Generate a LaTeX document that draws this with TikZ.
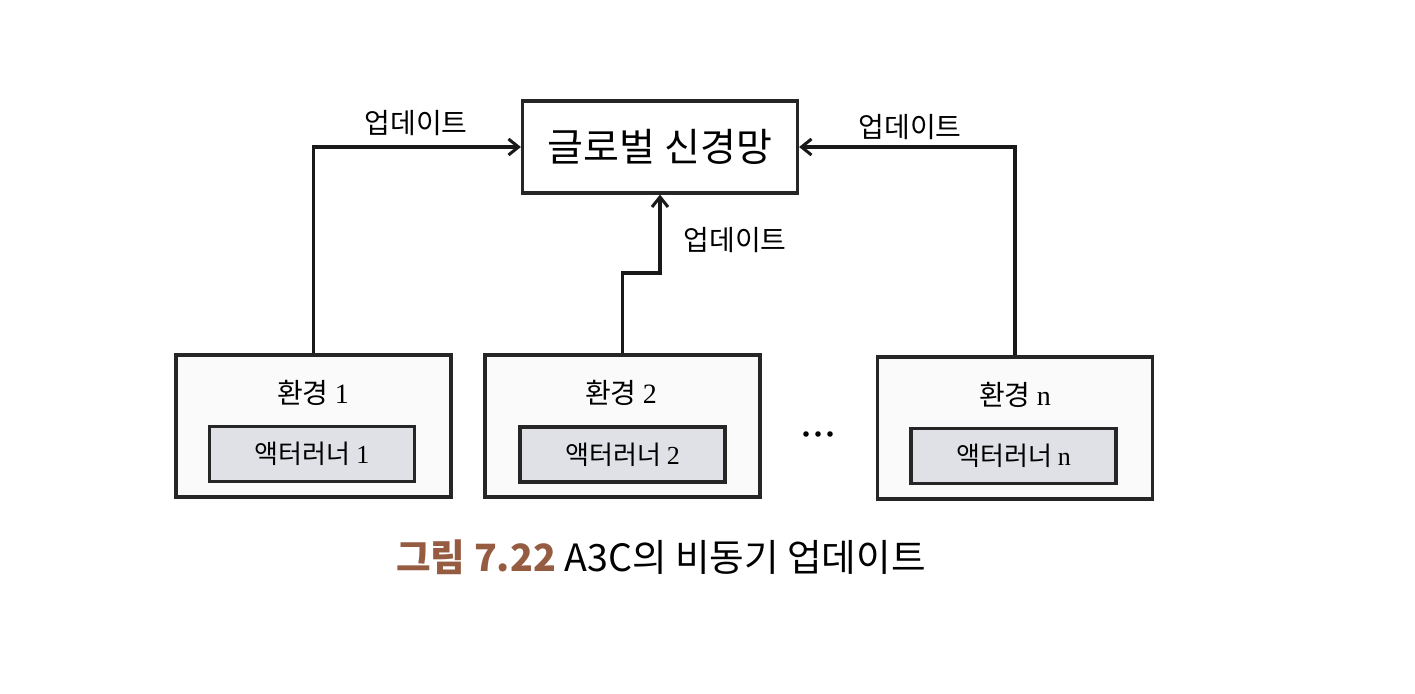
\documentclass[tikz,border=0pt]{standalone}
\usepackage{fontspec}
\setmainfont{Noto Sans CJK KR}
\newfontfamily\numfont{Liberation Serif}
\usetikzlibrary{arrows.meta}
\definecolor{capbrown}{RGB}{150,92,66}
\definecolor{actorfill}{RGB}{224,225,230}
\definecolor{envfill}{RGB}{250,250,250}
\tikzset{
  px/.style={x=0.5pt,y=-0.5pt},
  box/.style={draw=black!85,line width=1.6pt,inner sep=0pt},
  globbox/.style={box,fill=white,minimum width=137.5pt,minimum height=46pt,font=\fontsize{19.5}{22}\selectfont},
  envbox/.style={box,fill=envfill,minimum width=137.5pt,minimum height=71pt},
  actorbox/.style={box,fill=actorfill,minimum width=102.5pt,minimum height=27.5pt,font=\fontsize{13}{15}\selectfont},
  envlabel/.style={inner sep=0pt,font=\fontsize{14}{16}\selectfont},
  updlabel/.style={inner sep=0pt,font=\fontsize{14}{16}\selectfont},
  arr/.style={line width=1.6pt,draw=black!90,-{Straight Barb[length=5pt,width=8pt,line width=1.5pt]}},
}
\begin{document}
\begin{tikzpicture}[px]
\useasboundingbox[fill=white] (0,0) rectangle (1415,694);
% global network
\node[globbox] (glob) at (660,147) {글로벌 신경망};
% environments
\node[envbox] (env1) at (313.5,426) {};
\node[envbox] (env2) at (622.5,426) {};
\node[envbox] (envn) at (1015,428) {};
\node[envlabel] (envlab1) at (313,393) {환경 {\numfont 1}};
\node[envlabel] (envlab2) at (621,393) {환경 {\numfont 2}};
\node[envlabel] (envlabn) at (1015,395) {환경 {\numfont n}};
\node[actorbox] (act1) at (312,454) {액터러너 {\numfont 1}};
\node[actorbox] (act2) at (622.5,454.5) {액터러너 {\numfont 2}};
\node[actorbox] (actn) at (1013.5,456) {액터러너 {\numfont n}};
% dots
\fill (806,434) circle (2.8) (818,434) circle (2.8) (830,434) circle (2.8);
% connectors
\coordinate (jog) at (622.5,273);
\draw[arr] (env1.north) |- (glob.west);
\draw[arr] (envn.north) |- (glob.east);
\draw[arr] (env2.north) -- (jog) -| (glob.south);
% labels
\node[updlabel] (upd1) at (416,123) {업데이트};
\node[updlabel] (upd2) at (735,240) {업데이트};
\node[updlabel] (upd3) at (910,127) {업데이트};
% caption
\node[inner sep=0pt,font=\fontsize{18.8}{22}\selectfont] (cap) at (661,557)
  {{\color{capbrown}\bfseries 그림 7.22} A3C의 비동기 업데이트};
\end{tikzpicture}
\end{document}
